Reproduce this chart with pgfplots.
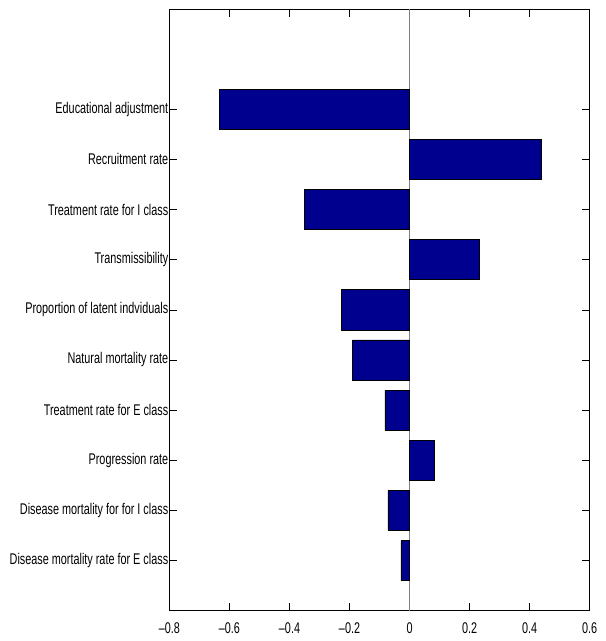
\documentclass[border=0pt]{standalone}
\usepackage{fontspec}
\setmainfont{Liberation Sans}[FakeStretch=0.7]
\usepackage{pgfplots}
\pgfplotsset{compat=1.18}
\definecolor{barblue}{RGB}{0,0,143}
\begin{document}
\begin{tikzpicture}
\begin{axis}[
  scale only axis,
  width=420.5pt, height=602pt,
  xmin=-0.8, xmax=0.6,
  ymin=0, ymax=12,
  xtick={-0.8,-0.6,-0.4,-0.2,0,0.2,0.4,0.6},
  xticklabels={–0.8,–0.6,–0.4,–0.2,0,0.2,0.4,0.6},
  ytick={1,2,3,4,5,6,7,8,9,10},
  yticklabels={Disease mortality rate for E class,Disease mortality for for I class,Progression rate,Treatment rate for E class,Natural mortality rate,Proportion of latent indviduals,Transmissibility,Treatment rate for I class,Recruitment rate,Educational adjustment},
  tick align=inside,
  xtick pos=both, ytick pos=both,
  major tick length=8pt,
  tick style={black, line width=0.6pt},
  ticklabel style={font=\fontsize{15.5}{18}\selectfont},
  yticklabel style={inner sep=1pt},
  xticklabel style={inner sep=2pt, yshift=-10pt},
  axis line style={black, line width=0.8pt},
  clip=false,
]
\addplot[gray, line width=0.6pt, forget plot] coordinates {(0,0) (0,12)};
\addplot[xbar, bar width=0.8, fill=barblue, draw=black, line width=0.6pt] coordinates {
  (-0.029,1) (-0.072,2) (0.081,3) (-0.082,4) (-0.190,5)
  (-0.226,6) (0.231,7) (-0.350,8) (0.440,9) (-0.633,10)
};
\end{axis}
\useasboundingbox ([xshift=-169.5pt,yshift=-30.3pt]current axis.south west) rectangle ([xshift=16pt,yshift=9pt]current axis.north east);
\end{tikzpicture}
\end{document}
